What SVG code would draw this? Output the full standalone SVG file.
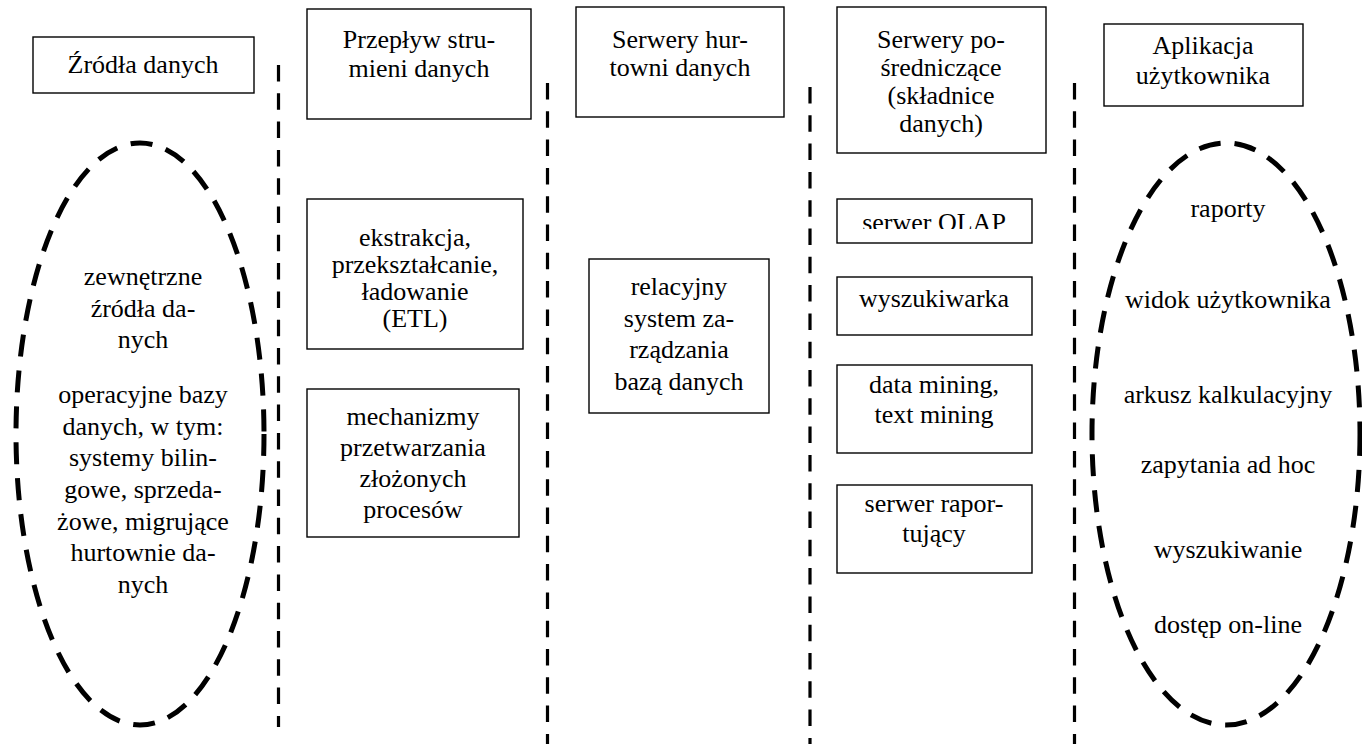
<svg xmlns="http://www.w3.org/2000/svg" width="1362" height="744" viewBox="0 0 1362 744">
<style>
text{font-family:'Liberation Serif','Times New Roman',serif;font-size:26px;fill:#000;text-anchor:middle}
.box{fill:#fff;stroke:#000;stroke-width:1.4}
.oval{fill:none;stroke:#000;stroke-width:5;stroke-dasharray:22 14}
.sep{stroke:#000;stroke-width:3.2;stroke-dasharray:16.5 11.8;fill:none}
</style>
<defs>
<clipPath id="olapClip"><rect x="837" y="199" width="195" height="30"/></clipPath>
</defs>
<rect width="1362" height="744" fill="#fff"/>

<g id="separators">
<line class="sep" x1="278.5" y1="65" x2="278.5" y2="727"/>
<line class="sep" x1="547.5" y1="83" x2="547.5" y2="744"/>
<line class="sep" x1="810" y1="87" x2="810" y2="744"/>
<line class="sep" x1="1074.5" y1="83" x2="1074.5" y2="744"/>
</g>

<g id="zrodla-header">
<rect class="box" x="33" y="37" width="221" height="56"/>
<text x="143" y="73">Źródła danych</text>
</g>

<g id="przeplyw-header">
<rect class="box" x="307" y="9" width="224" height="110"/>
<text x="419" y="48">Przepływ stru-</text>
<text x="419" y="77">mieni danych</text>
</g>

<g id="hurtownie-header">
<rect class="box" x="576" y="7" width="208" height="110"/>
<text x="680" y="48">Serwery hur-</text>
<text x="680" y="76">towni danych</text>
</g>

<g id="posredniczace-header">
<rect class="box" x="837" y="7" width="209" height="146"/>
<text x="941" y="48">Serwery po-</text>
<text x="941" y="76">średniczące</text>
<text x="941" y="104">(składnice</text>
<text x="941" y="132">danych)</text>
</g>

<g id="aplikacja-header">
<rect class="box" x="1104" y="24" width="199" height="82"/>
<text x="1203" y="54">Aplikacja</text>
<text x="1203" y="84">użytkownika</text>
</g>

<g id="zrodla-oval">
<ellipse class="oval" cx="140" cy="434" rx="124" ry="291"/>
<text x="143" y="285">zewnętrzne</text>
<text x="143" y="317">źródła da-</text>
<text x="143" y="348">nych</text>
<text x="143" y="403">operacyjne bazy</text>
<text x="143" y="435">danych, w tym:</text>
<text x="143" y="466">systemy bilin-</text>
<text x="143" y="498">gowe, sprzeda-</text>
<text x="143" y="530">żowe, migrujące</text>
<text x="143" y="561">hurtownie da-</text>
<text x="143" y="593">nych</text>
</g>

<g id="etl">
<rect class="box" x="307" y="199" width="216" height="150"/>
<text x="415" y="246">ekstrakcja,</text>
<text x="415" y="273">przekształcanie,</text>
<text x="415" y="300">ładowanie</text>
<text x="415" y="327">(ETL)</text>
</g>

<g id="mechanizmy">
<rect class="box" x="307" y="389" width="212" height="148"/>
<text x="413" y="425">mechanizmy</text>
<text x="413" y="456">przetwarzania</text>
<text x="413" y="487">złożonych</text>
<text x="413" y="518">procesów</text>
</g>

<g id="rdbms">
<rect class="box" x="589" y="259" width="180" height="154"/>
<text x="679" y="295">relacyjny</text>
<text x="679" y="327">system za-</text>
<text x="679" y="358">rządzania</text>
<text x="679" y="390">bazą danych</text>
</g>

<g id="olap">
<rect class="box" x="837" y="199" width="195" height="44"/>
<text x="934" y="231" clip-path="url(#olapClip)">serwer OLAP</text>
</g>

<g id="wyszukiwarka">
<rect class="box" x="837" y="277" width="195" height="58"/>
<text x="934" y="307">wyszukiwarka</text>
</g>

<g id="mining">
<rect class="box" x="837" y="365" width="195" height="88"/>
<text x="934" y="393">data mining,</text>
<text x="934" y="423">text mining</text>
</g>

<g id="raportujacy">
<rect class="box" x="837" y="485" width="195" height="88"/>
<text x="934" y="512">serwer rapor-</text>
<text x="934" y="542">tujący</text>
</g>

<g id="aplikacje-oval">
<ellipse class="oval" cx="1226" cy="434" rx="134" ry="291"/>
<text x="1228" y="217">raporty</text>
<text x="1228" y="308">widok użytkownika</text>
<text x="1228" y="403">arkusz kalkulacyjny</text>
<text x="1228" y="473">zapytania ad hoc</text>
<text x="1228" y="558">wyszukiwanie</text>
<text x="1228" y="633">dostęp on-line</text>
</g>
</svg>
